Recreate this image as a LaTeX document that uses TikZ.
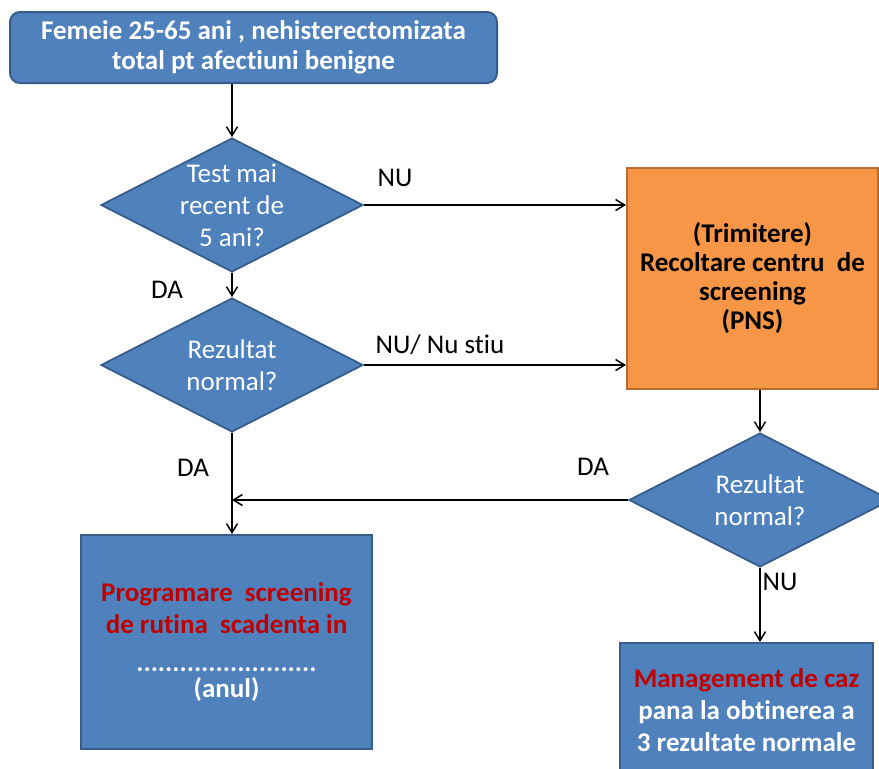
\documentclass[tikz,border=0pt]{standalone}
\usepackage{fontspec}
\setmainfont{Carlito}[Ligatures=NoCommon]
\usetikzlibrary{shapes.geometric, arrows.meta}
\definecolor{boxblue}{HTML}{4F81BD}
\definecolor{boxblueline}{HTML}{385D8A}
\definecolor{boxorange}{HTML}{F79646}
\definecolor{boxorangeline}{HTML}{B66D31}
\definecolor{textred}{HTML}{C00000}

\begin{document}
\begin{tikzpicture}[x=1pt, y=-1pt,
        bluebox/.style={draw=boxblueline, line width=2pt, fill=boxblue, text=white,
            font=\bfseries\fontsize{27}{32}\selectfont, align=center, inner sep=0pt},
        decision/.style={diamond, draw=boxblueline, line width=1.8pt, fill=boxblue,
            minimum width=262pt, minimum height=134pt, inner sep=0pt},
        dectext/.style={text=white, font=\fontsize{27}{32}\selectfont, align=center},
        lbl/.style={font=\fontsize{27}{30}\selectfont},
        arr/.style={-{Straight Barb[length=9pt, width=11pt]}, line width=1.5pt}]
        \useasboundingbox (0,0) rectangle (879,769);

        % punct de plecare
        \node[bluebox, rounded corners=10pt, minimum width=487pt, minimum height=71pt,
            font=\bfseries\fontsize{27}{30}\selectfont] (start) at (253.5,47.5)
            {Femeie 25-65 ani , nehisterectomizata\\total pt afectiuni benigne};

        % decizii din stanga
        \node[decision] (test) at (232,205) {};
        \node[dectext] (testtxt) at (test) {Test mai\\recent de\\5 ani?};
        \node[decision] (rez1) at (232,365) {};
        \node[dectext] (rez1txt) at (rez1) {Rezultat\\normal?};

        % trimitere catre centrul de screening
        \node[draw=boxorangeline, line width=2pt, fill=boxorange, minimum width=251pt,
            minimum height=221pt, inner sep=0pt, align=center,
            font=\bfseries\fontsize{27}{29}\selectfont] (pns) at (752.5,278.5)
            {(Trimitere)\\Recoltare centru\ \ de\\screening\\(PNS)};
        \node[decision] (rez2) at (760,500) {};
        \node[dectext] (rez2txt) at (rez2) {Rezultat\\normal?};

        % rezultate finale
        \node[bluebox, minimum width=291pt, minimum height=214pt] (prog) at (226.5,642)
            {\textcolor{textred}{Programare\ \ screening}\\
             \textcolor{textred}{de rutina\ \ scadenta in}\\[6pt]
             .........................\\[-6pt]
             (anul)};
        \node[bluebox, minimum width=253pt, minimum height=134pt] (mgmt) at (746.5,710)
            {\textcolor{textred}{Management de caz}\\pana la obtinerea a\\3 rezultate normale};

        % etichete pe sageti
        \node[lbl] (nu1) at (395,178) {NU};
        \node[lbl] (da1) at (167,290) {DA};
        \node[lbl] (nu2) at (440,345) {NU/ Nu stiu};
        \node[lbl] (da2) at (193,468) {DA};
        \node[lbl] (da3) at (593,467) {DA};
        \node[lbl] (nu3) at (780,582) {NU};

        % sageti
        \draw[arr] (start.south -| test.north) -- (test.north);
        \draw[arr] (test.east) -- (test.east -| pns.west);
        \draw[arr] (test.south) -- (rez1.north);
        \draw[arr] (rez1.east) -- (rez1.east -| pns.west);
        \draw[arr] (rez1.south) -- (rez1.south |- prog.north);
        \coordinate (join) at (rez1.south |- rez2.west);
        \draw[arr] (rez2.west) -- (join);
        \draw[arr] (pns.south -| rez2.north) -- (rez2.north);
        \draw[arr] (rez2.south) -- (rez2.south |- mgmt.north);
    \end{tikzpicture}
\end{document}
